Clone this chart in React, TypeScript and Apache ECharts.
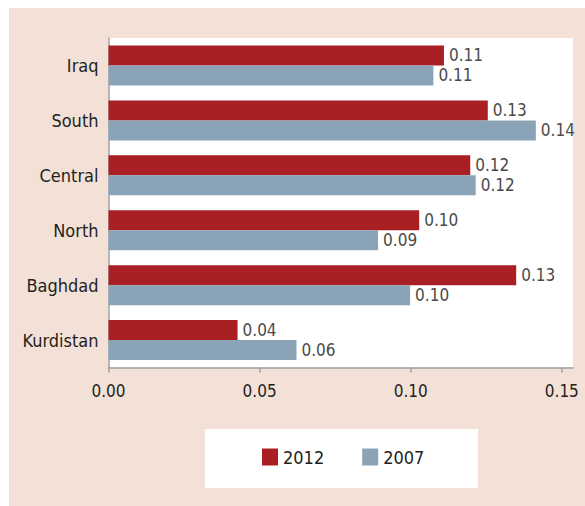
import React, { useEffect, useRef } from "react";
import * as echarts from "echarts";

const categories = ["Iraq", "South", "Central", "North", "Baghdad", "Kurdistan"];
const values2012 = [0.111, 0.1255, 0.1197, 0.1028, 0.1349, 0.0427];
const values2007 = [0.1075, 0.1414, 0.1215, 0.0892, 0.0998, 0.0622];
const xTicks = [0, 0.05, 0.1, 0.15];
const seriesNames = ["2012", "2007"];

const FONT = "'DejaVu Sans Condensed', 'Liberation Sans Narrow', sans-serif";
const RED = "#a91f24";
const BLUE = "#8ba3b7";

export default function App() {
  const ref = useRef<HTMLDivElement>(null);
  useEffect(() => {
    if (!ref.current) return;
    const chart = echarts.init(ref.current, undefined, { renderer: "svg" });
    const labelCfg = {
      show: true,
      position: "right" as const,
      distance: 5,
      fontFamily: FONT,
      fontSize: 17,
      lineHeight: 19,
      color: "#4a4a4a",
      formatter: (p: any) => Number(p.value).toFixed(2),
    };
    chart.setOption({
      animation: false,
      backgroundColor: "#ffffff",
      graphic: [
        {
          type: "rect",
          z: -10,
          shape: { x: 9, y: 8, width: 585, height: 506 },
          style: { fill: "#f3e1d8" },
        },
        {
          type: "rect",
          z: -5,
          shape: { x: 205, y: 429, width: 273, height: 59 },
          style: { fill: "#ffffff" },
        },
      ],
      grid: {
        left: 108.5,
        right: 12,
        top: 38,
        bottom: 138.5,
        show: true,
        backgroundColor: "#ffffff",
        borderWidth: 0,
      },
      legend: {
        data: seriesNames,
        left: 262,
        top: 448,
        padding: 0,
        icon: "rect",
        itemWidth: 16,
        itemHeight: 17,
        itemGap: 38,
        textStyle: { fontFamily: FONT, fontSize: 18, color: "#231f20" },
      },
      xAxis: {
        type: "value",
        min: 0,
        max: 0.1537,
        interval: 0.05,
        splitLine: { show: false },
        axisLine: { show: true, lineStyle: { color: "#a0a0a0", width: 1.5 } },
        axisTick: { show: true, length: 5, customValues: xTicks, lineStyle: { color: "#a0a0a0", width: 1.5 } },
        axisLabel: {
          customValues: xTicks,
          margin: 15,
          fontFamily: FONT,
          fontSize: 17,
          color: "#231f20",
          formatter: (v: number) => v.toFixed(2),
        },
      },
      yAxis: {
        type: "category",
        data: categories,
        inverse: true,
        axisLine: { show: true, lineStyle: { color: "#a0a0a0", width: 1.5 } },
        axisTick: { show: false },
        axisLabel: {
          margin: 10,
          fontFamily: FONT,
          fontSize: 18,
          color: "#231f20",
        },
      },
      series: [
        {
          name: seriesNames[0],
          type: "bar",
          data: values2012,
          barWidth: 20,
          barGap: "0%",
          itemStyle: { color: RED },
          label: labelCfg,
        },
        {
          name: seriesNames[1],
          type: "bar",
          data: values2007,
          barWidth: 20,
          barGap: "0%",
          itemStyle: { color: BLUE },
          label: labelCfg,
        },
      ],
    });
    return () => chart.dispose();
  }, []);
  return (
    <div
      ref={ref}
      style={{ position: "fixed", left: 0, top: 0, width: 585, height: 506 }}
    />
  );
}
